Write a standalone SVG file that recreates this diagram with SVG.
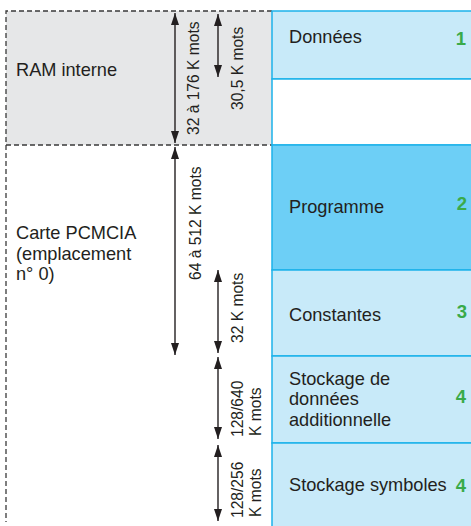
<svg xmlns="http://www.w3.org/2000/svg" width="471" height="526" viewBox="0 0 471 526">
<style>
.lbl{font-family:"Liberation Sans",Arial,sans-serif;font-size:18.2px;fill:#231f20}
.num{font-family:"Liberation Sans",Arial,sans-serif;font-size:18.5px;font-weight:bold;fill:#3aaa4a;text-anchor:end}
.dim{font-family:"Liberation Sans",Arial,sans-serif;font-size:15.6px;fill:#231f20}
.dash{fill:none;stroke:#3a3a3a;stroke-width:1.3;stroke-dasharray:5 3}
.seg{stroke:#1db2ea;stroke-width:1.5}
.arr{stroke:#231f20;stroke-width:1.4;marker-start:url(#ah);marker-end:url(#ah)}
</style>
<defs>
<marker id="ah" markerUnits="userSpaceOnUse" viewBox="0 0 12 8" refX="12" refY="4" markerWidth="12" markerHeight="8" orient="auto-start-reverse">
<path d="M0,0 L12,4 L0,8 z" fill="#231f20"/>
</marker>
</defs>
<rect width="471" height="526" fill="#ffffff"/>
<g id="ram">
<rect x="6" y="11" width="266" height="134" fill="#e6e7e8"/>
<text class="lbl" x="16" y="76">RAM interne</text>
</g>
<g id="pcmcia">
<text class="lbl" x="16" y="239">Carte PCMCIA</text>
<text class="lbl" x="16" y="260">(emplacement</text>
<text class="lbl" x="16" y="280">n° 0)</text>
</g>
<g id="bounds">
<path class="dash" d="M272,11 H6 V522"/>
<path class="dash" d="M6,145 H272"/>
</g>
<g id="donnees">
<rect class="seg" x="272" y="11" width="205" height="68" fill="#c8eaf9"/>
<text class="lbl" x="289" y="43">Données</text>
<text class="num" x="466" y="45">1</text>
</g>
<g id="vide">
<rect class="seg" x="272" y="79" width="205" height="66" fill="#ffffff"/>
</g>
<g id="programme">
<rect class="seg" x="272" y="145" width="205" height="125" fill="#6dcff6"/>
<text class="lbl" x="289" y="213">Programme</text>
<text class="num" x="467" y="210">2</text>
</g>
<g id="constantes">
<rect class="seg" x="272" y="270" width="205" height="86" fill="#c8eaf9"/>
<text class="lbl" x="289" y="321">Constantes</text>
<text class="num" x="467" y="318">3</text>
</g>
<g id="stockage-donnees">
<rect class="seg" x="272" y="356" width="205" height="87" fill="#c8eaf9"/>
<text class="lbl" x="289" y="385">Stockage de</text>
<text class="lbl" x="289" y="405">données</text>
<text class="lbl" x="289" y="426">additionnelle</text>
<text class="num" x="466" y="403">4</text>
</g>
<g id="stockage-symboles">
<rect class="seg" x="272" y="443" width="205" height="90" fill="#c8eaf9"/>
<text class="lbl" x="289" y="491">Stockage symboles</text>
<text class="num" x="466" y="492">4</text>
</g>
<g id="connectors">
<line class="arr" x1="175" y1="13" x2="175" y2="143"/>
<line class="arr" x1="218" y1="14" x2="218" y2="77"/>
<line class="arr" x1="175" y1="147" x2="175" y2="355"/>
<line class="arr" x1="218" y1="270" x2="218" y2="353"/>
<line class="arr" x1="218" y1="357" x2="218" y2="439"/>
<line class="arr" x1="218" y1="445" x2="218" y2="521"/>
</g>
<g id="dim-labels">
<text class="dim" transform="translate(199,135) rotate(-90)">32 à 176 K mots</text>
<text class="dim" transform="translate(243,110) rotate(-90)">30,5 K mots</text>
<text class="dim" transform="translate(201,280) rotate(-90)">64 à 512 K mots</text>
<text class="dim" transform="translate(243,343) rotate(-90)">32 K mots</text>
<text class="dim" transform="translate(243,437) rotate(-90)">128/640</text>
<text class="dim" transform="translate(261,436) rotate(-90)">K mots</text>
<text class="dim" transform="translate(243,518) rotate(-90)">128/256</text>
<text class="dim" transform="translate(261,517) rotate(-90)">K mots</text>
</g>
</svg>
